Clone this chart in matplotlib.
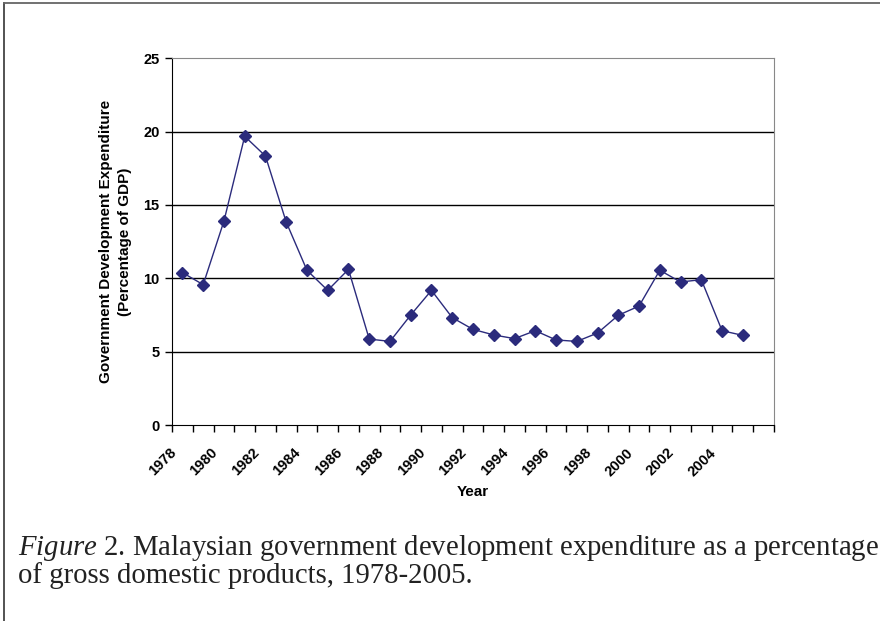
import numpy as np
import matplotlib
matplotlib.use('Agg')
import matplotlib.pyplot as plt
from matplotlib.lines import Line2D

plt.rcParams['mathtext.fontset'] = 'custom'
plt.rcParams['mathtext.it'] = 'Liberation Serif:italic'
plt.rcParams['mathtext.rm'] = 'Liberation Serif'

# data
years = list(range(1978, 2006))
expenditure = [10.39, 9.57, 13.9, 19.68, 18.34, 13.84, 10.55, 9.18, 10.61,
               5.86, 5.70, 7.5, 9.18, 7.32, 6.52, 6.14, 5.89, 6.43, 5.80,
               5.70, 6.27, 7.48, 8.11, 10.55, 9.75, 9.91, 6.43, 6.11]
tick_labels = [str(y) for y in range(1978, 2005, 2)]
y_ticks = [0, 5, 10, 15, 20, 25]

fig = plt.figure(figsize=(8.8, 6.21), dpi=100)
ax = fig.add_axes([0.1955, 0.3156, 0.684, 0.5905])

# category axis: points in the middle, ticks on the boundaries
n_cat = len(years) + 1
xpos = np.arange(len(years)) + 0.5
ax.plot(xpos, expenditure, color='#2b2b7c', linewidth=1.0,
        marker='D', markersize=6, markerfacecolor='#2b2b7c',
        markeredgecolor='#2b2b7c')

ax.set_xlim(0, n_cat)
ax.set_ylim(0, 25)
ax.set_yticks(y_ticks)
ax.set_xticks(np.arange(n_cat + 1))
ax.set_xticklabels([''] * (n_cat + 1))
for i, lab in enumerate(tick_labels):
    ax.text(2 * i - 0.15, -1.4, lab, rotation=45, ha='right', va='top',
            rotation_mode='anchor', fontsize=10.5, fontweight='bold',
            family='Liberation Sans', transform=ax.transData)

for v in [5, 10, 15, 20]:
    ax.axhline(v, color='black', linewidth=1.0, zorder=1)

for lab in ax.get_yticklabels():
    lab.set_fontweight('bold')
    lab.set_fontfamily('Liberation Sans')
    lab.set_fontsize(10.5)
ax.tick_params(axis='both', direction='out', length=5, width=1, color='black', pad=4)

ax.spines['top'].set_color('#888888')
ax.spines['right'].set_color('#888888')
ax.spines['left'].set_color('black')
ax.spines['bottom'].set_color('black')

ax.set_ylabel('Government Development Expenditure\n(Percentage of GDP)',
              fontsize=11, fontweight='bold', family='Liberation Sans', labelpad=8,
              linespacing=1.45)
fig.text(0.5375, 1 - 492 / 621, 'Year', ha='center', va='center',
         fontsize=11, fontweight='bold', family='Liberation Sans')

# caption
fig.text(18 / 880, 1 - 555 / 621,
         r'$\it{Figure}$' + ' 2. Malaysian government development expenditure as a percentage',
         ha='left', va='baseline', fontsize=20.7, family='Liberation Serif', color='#222222')
fig.text(18 / 880, 1 - 583 / 621, 'of gross domestic products, 1978-2005.',
         ha='left', va='baseline', fontsize=20.7, family='Liberation Serif', color='#222222')

# frame around the figure (top and left only visible)
fig.add_artist(Line2D([4 / 880, 4 / 880], [0, 1 - 3 / 621], transform=fig.transFigure,
                      color='#444444', linewidth=1.3))
fig.add_artist(Line2D([4 / 880, 1], [1 - 3 / 621, 1 - 3 / 621], transform=fig.transFigure,
                      color='#666666', linewidth=1.3))

fig.savefig('out.png', dpi=100)
